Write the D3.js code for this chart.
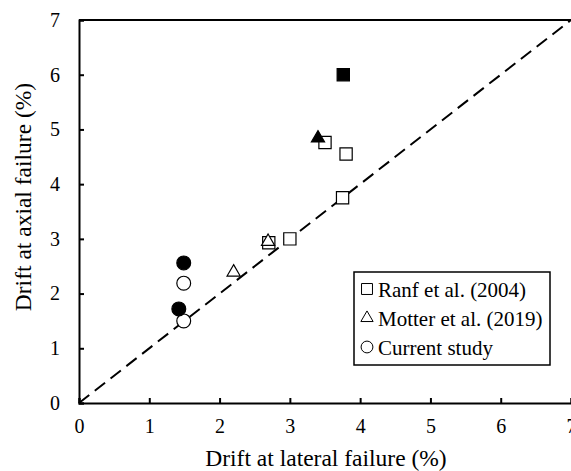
<!DOCTYPE html>
<html>
<head>
<meta charset="utf-8">
<script src="https://cdn.jsdelivr.net/npm/d3@7"></script>
<style>
  body { margin: 0; background: #fff; }
</style>
</head>
<body>
<div id="chart"></div>
<script>
// data (drift in %)
var ranfOpen   = [[2.7, 2.93], [3.0, 3.0], [3.75, 3.75], [3.8, 4.55], [3.5, 4.76]];
var ranfFilled = [[3.76, 6.0]];
var motterOpen   = [[2.2, 2.39], [2.69, 2.95]];
var motterFilled = [[3.4, 4.84]];
var currentOpen   = [[1.49, 2.19], [1.49, 1.5]];
var currentFilled = [[1.49, 2.56], [1.42, 1.72]];
var ticks = [0, 1, 2, 3, 4, 5, 6, 7];
var legendLabels = ["Ranf et al. (2004)", "Motter et al. (2019)", "Current study"];

var width = 571, height = 471,
    margin = {left: 79, top: 20, right: 0, bottom: 68};
var serif = "'Liberation Serif', 'Times New Roman', serif";

var svg = d3.select("#chart").append("svg")
    .attr("width", width).attr("height", height)
    .style("font-family", serif);

var x = d3.scaleLinear().domain([0, 7]).range([margin.left, margin.left + 492]);
var y = d3.scaleLinear().domain([0, 7]).range([height - margin.bottom, margin.top]);

// axes with inward ticks
var xAxis = svg.append("g")
    .attr("transform", "translate(0," + y(0) + ")")
    .call(d3.axisBottom(x).tickValues(ticks).tickSize(-5).tickPadding(16).tickFormat(d3.format("d")));
var yAxis = svg.append("g")
    .attr("transform", "translate(" + x(0) + ",0)")
    .call(d3.axisLeft(y).tickValues(ticks).tickSize(-5).tickPadding(19).tickFormat(d3.format("d")));

[xAxis, yAxis].forEach(function(g) {
    g.attr("font-family", null);
    g.select(".domain").attr("stroke-width", 2).attr("stroke", "#000");
    g.selectAll(".tick line").attr("stroke-width", 2).attr("stroke", "#000");
    g.selectAll(".tick text").attr("font-size", 20).attr("fill", "#000")
        .style("font-family", serif);
});

// top border
svg.append("line")
    .attr("x1", x(0)).attr("x2", x(7))
    .attr("y1", y(7)).attr("y2", y(7))
    .attr("stroke", "#000").attr("stroke-width", 2);

// 1:1 dashed line
svg.append("line")
    .attr("x1", x(0)).attr("y1", y(0))
    .attr("x2", x(7)).attr("y2", y(7))
    .attr("stroke", "#000").attr("stroke-width", 2)
    .attr("stroke-dasharray", "13,7");

var sym = {
    square: d3.symbol().type(d3.symbolSquare).size(150),
    triangle: d3.symbol().type(d3.symbolTriangle).size(75),
    circle: d3.symbol().type(d3.symbolCircle).size(150)
};

function plot(data, shape, filled) {
    svg.append("g").selectAll("path").data(data).enter().append("path")
        .attr("d", sym[shape])
        .attr("transform", function(d) { return "translate(" + x(d[0]) + "," + y(d[1]) + ")"; })
        .attr("fill", filled ? "#000" : "#fff")
        .attr("stroke", "#000").attr("stroke-width", 1.2);
}

plot(currentOpen, "circle", false);
plot(currentFilled, "circle", true);
plot(ranfOpen, "square", false);
plot(ranfFilled, "square", true);
plot(motterOpen, "triangle", false);
plot(motterFilled, "triangle", true);

// legend
var leg = svg.append("g").attr("transform", "translate(354,272)");
leg.append("rect").attr("width", 196).attr("height", 93)
    .attr("fill", "#fff").attr("stroke", "#000").attr("stroke-width", 1.5);
var legSym = [d3.symbol().type(d3.symbolSquare).size(120),
              d3.symbol().type(d3.symbolTriangle).size(65),
              d3.symbol().type(d3.symbolCircle).size(110)];
legendLabels.forEach(function(t, i) {
    var base = 25 + i * 29;
    leg.append("path").attr("d", legSym[i])
        .attr("transform", "translate(13," + (base - 8) + ")")
        .attr("fill", "none").attr("stroke", "#000").attr("stroke-width", 1);
    leg.append("text").attr("x", 24).attr("y", base)
        .attr("font-size", 21).style("font-family", serif).text(t);
});

// axis titles
svg.append("text")
    .attr("x", 326).attr("y", 466)
    .attr("text-anchor", "middle").attr("font-size", 23.5)
    .style("font-family", serif)
    .text("Drift at lateral failure (%)");
svg.append("text")
    .attr("transform", "translate(31,197) rotate(-90)")
    .attr("text-anchor", "middle").attr("font-size", 23.5)
    .style("font-family", serif)
    .text("Drift at axial failure (%)");
</script>
</body>
</html>
